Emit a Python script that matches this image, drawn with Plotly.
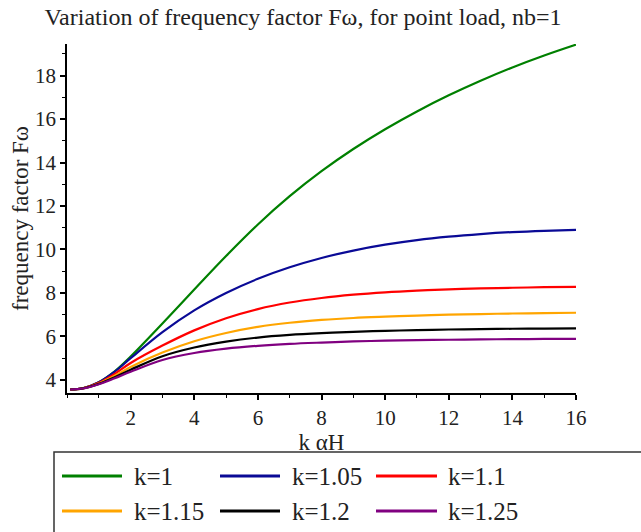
import plotly.graph_objects as go

# k αH values at which the frequency factor is tabulated
k_alpha_h = [0.1, 0.5, 1, 1.5, 2, 3, 4, 5, 6, 7, 8, 9, 10, 11, 12, 13, 14, 15, 16]

# Frequency factor Fω for each k
f_k100 = [3.56, 3.62, 3.90, 4.40, 5.08, 6.60, 8.16, 9.70, 11.15, 12.45, 13.60, 14.62, 15.53, 16.35, 17.09, 17.76, 18.37, 18.92, 19.42]
f_k105 = [3.56, 3.62, 3.89, 4.38, 5.00, 6.20, 7.20, 8.00, 8.65, 9.18, 9.61, 9.95, 10.22, 10.43, 10.59, 10.71, 10.80, 10.86, 10.90]
f_k110 = [3.56, 3.62, 3.87, 4.28, 4.78, 5.58, 6.28, 6.84, 7.26, 7.56, 7.77, 7.92, 8.03, 8.11, 8.17, 8.21, 8.24, 8.265, 8.28]
f_k115 = [3.56, 3.615, 3.84, 4.19, 4.60, 5.26, 5.78, 6.16, 6.44, 6.63, 6.76, 6.85, 6.91, 6.96, 7.00, 7.03, 7.055, 7.075, 7.09]
f_k120 = [3.56, 3.61, 3.82, 4.13, 4.47, 5.09, 5.49, 5.76, 5.95, 6.07, 6.15, 6.21, 6.26, 6.29, 6.32, 6.34, 6.355, 6.365, 6.37]
f_k125 = [3.56, 3.605, 3.80, 4.08, 4.38, 4.92, 5.24, 5.44, 5.57, 5.66, 5.72, 5.77, 5.805, 5.83, 5.85, 5.865, 5.877, 5.886, 5.893]

series_labels = ["k=1", "k=1.05", "k=1.1", "k=1.15", "k=1.2", "k=1.25"]
series_values = [f_k100, f_k105, f_k110, f_k115, f_k120, f_k125]
series_colors = ["#008000", "#0a0a96", "#ff0000", "#ffa500", "#000000", "#800080"]

x_ticks = [2, 4, 6, 8, 10, 12, 14, 16]
y_ticks = [4, 6, 8, 10, 12, 14, 16, 18]

W, H = 641, 532
ML, MR, MT, MB = 67, 65, 44, 139
FONT = "Liberation Serif"
TEXT = "#222222"


def paper_x(px):
    return (px - ML) / (W - ML - MR)


def paper_y(py):
    return (H - MB - py) / (H - MT - MB)


fig = go.Figure()
for name, vals, col in zip(series_labels, series_values, series_colors):
    fig.add_trace(go.Scatter(
        x=k_alpha_h, y=vals, mode="lines", name=name,
        line=dict(color=col, width=2.2, shape="spline", smoothing=1.0),
        showlegend=False,
    ))

# Legend box (open to the right and bottom edges of the figure)
shapes = [dict(type="rect", xref="paper", yref="paper",
               x0=paper_x(54), x1=paper_x(720), y0=paper_y(452), y1=paper_y(620),
               line=dict(color="#333333", width=1.5), fillcolor="rgba(0,0,0,0)")]
annotations = []
cols_line = [(62, 122), (220, 280), (376, 437)]
cols_text = [132, 290, 446]
rows_y = [476, 511]
for i, (name, col) in enumerate(zip(series_labels, series_colors)):
    r, c = divmod(i, 3)
    x0, x1 = cols_line[c]
    yy = rows_y[r]
    shapes.append(dict(type="line", xref="paper", yref="paper",
                       x0=paper_x(x0), x1=paper_x(x1), y0=paper_y(yy), y1=paper_y(yy),
                       line=dict(color=col, width=3)))
    annotations.append(dict(text=name, xref="paper", yref="paper",
                            x=paper_x(cols_text[c]), y=paper_y(yy),
                            xanchor="left", yanchor="middle", showarrow=False,
                            font=dict(family=FONT, size=25, color=TEXT)))

fig.update_layout(
    width=W, height=H,
    margin=dict(l=ML, r=MR, t=MT, b=MB),
    paper_bgcolor="white", plot_bgcolor="white",
    font=dict(family=FONT, color=TEXT),
    title=dict(text="Variation of frequency factor Fω, for point load, nb=1",
               x=303 / W, xanchor="center", xref="container",
               y=1 - 17 / H, yanchor="middle", yref="container",
               font=dict(family=FONT, size=24, color=TEXT)),
    shapes=shapes,
    annotations=annotations,
)
fig.update_xaxes(
    range=[0, 16], tickvals=x_ticks, showgrid=False, zeroline=False,
    showline=True, linecolor="black", linewidth=1.5,
    ticks="outside", ticklen=5, tickwidth=1.5, tickcolor="black",
    minor=dict(dtick=1, tick0=0, ticks="outside", ticklen=3, tickcolor="black", tickwidth=1.2),
    tickfont=dict(family=FONT, size=21, color=TEXT),
    title=dict(text="k αH", font=dict(family=FONT, size=23, color=TEXT), standoff=4),
)
fig.update_yaxes(
    range=[3.4, 19.45], tickvals=y_ticks, showgrid=False, zeroline=False,
    showline=True, linecolor="black", linewidth=1.5,
    ticks="outside", ticklen=5, tickwidth=1.5, tickcolor="black",
    minor=dict(dtick=1, tick0=0, ticks="outside", ticklen=3, tickcolor="black", tickwidth=1.2),
    tickfont=dict(family=FONT, size=21, color=TEXT),
    title=dict(text="frequency factor Fω", font=dict(family=FONT, size=23, color=TEXT), standoff=0),
)

fig.write_html("out.html")
